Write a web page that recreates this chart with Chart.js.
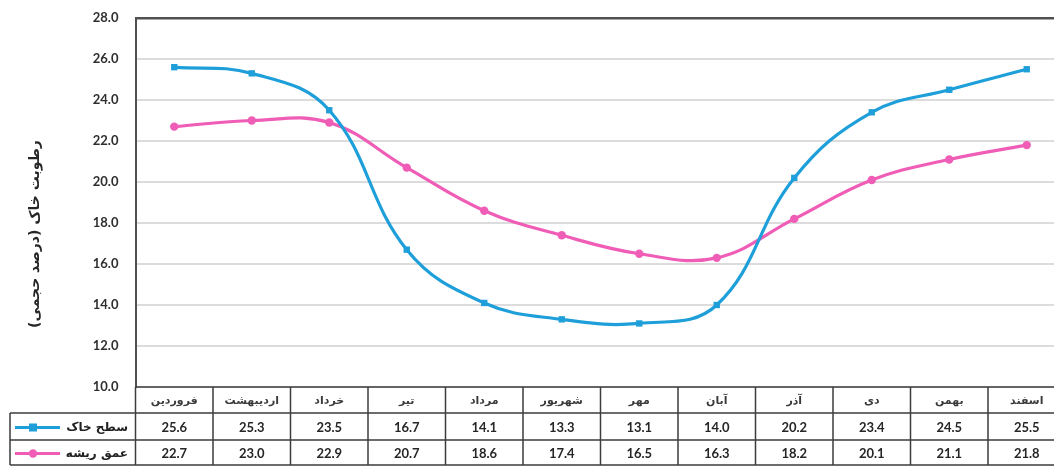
<!DOCTYPE html>
<html>
<head>
<meta charset="utf-8">
<script src="https://cdn.jsdelivr.net/npm/chart.js@4/dist/chart.umd.min.js"></script>
<style>
  html, body { margin: 0; padding: 0; background: #ffffff; overflow: hidden; }
  #wrap { position: relative; width: 1070px; height: 466px; }
</style>
</head>
<body>
<div id="wrap"><canvas id="c" width="1070" height="466"></canvas></div>
<script>
// Months of the Persian calendar
const months = ['فروردین', 'اردیبهشت', 'خرداد', 'تیر', 'مرداد', 'شهریور', 'مهر', 'آبان', 'آذر', 'دی', 'بهمن', 'اسفند'];

// Soil moisture (volumetric %)
const surfaceSoil = [25.6, 25.3, 23.5, 16.7, 14.1, 13.3, 13.1, 14.0, 20.2, 23.4, 24.5, 25.5];
const rootDepth   = [22.7, 23.0, 22.9, 20.7, 18.6, 17.4, 16.5, 16.3, 18.2, 20.1, 21.1, 21.8];

const seriesNames = ['سطح خاک', 'عمق ریشه'];
const seriesColors = ['#1e9fd9', '#ef5db6'];
const seriesMarkers = ['rect', 'circle'];

const yMin = 10;
const yMax = 28;
const yStep = 2;
const yTitle = 'رطوبت خاک (درصد حجمی)';

const persianFont = '"DejaVu Sans", sans-serif';
const numberFont = 'Lato, "Liberation Sans", sans-serif';

// Data table under the plot: month header row + one row per series
const dataTable = {
  id: 'dataTable',
  afterDraw(chart) {
    const { ctx, chartArea, scales } = chart;
    const x = scales.x;
    const colW = x.width / months.length;
    const rows = [chartArea.bottom, 413, 440, 465];
    const tableLeft = 10;

    ctx.save();
    ctx.strokeStyle = '#3d3d3d';
    ctx.lineWidth = 1.5;

    // horizontal rules
    ctx.beginPath();
    ctx.moveTo(chartArea.left, rows[0]); ctx.lineTo(chartArea.right, rows[0]);
    for (let r = 1; r < rows.length; r++) {
      ctx.moveTo(tableLeft, rows[r]); ctx.lineTo(chartArea.right, rows[r]);
    }
    // vertical rules
    for (let i = 0; i <= months.length; i++) {
      const bx = chartArea.left + i * colW;
      ctx.moveTo(bx, rows[0]); ctx.lineTo(bx, rows[3]);
    }
    ctx.moveTo(tableLeft, rows[1]); ctx.lineTo(tableLeft, rows[3]);
    ctx.stroke();

    // month headers
    ctx.direction = 'rtl';
    ctx.textAlign = 'center';
    ctx.textBaseline = 'middle';
    ctx.fillStyle = '#3a3a3a';
    ctx.font = 'bold 11px ' + persianFont;
    months.forEach((m, i) => {
      ctx.fillText(m, x.getPixelForValue(i), (rows[0] + rows[1]) / 2 + 1);
    });

    // series rows
    const series = [surfaceSoil, rootDepth];
    series.forEach((vals, s) => {
      const cy = (rows[s + 1] + rows[s + 2]) / 2 + 1;
      ctx.direction = 'ltr';
      ctx.textAlign = 'center';
      ctx.fillStyle = '#262626';
      ctx.font = 'bold 13px ' + numberFont;
      vals.forEach((v, i) => ctx.fillText(v.toFixed(1), x.getPixelForValue(i), cy));

      // row header: legend key + name
      ctx.strokeStyle = seriesColors[s];
      ctx.fillStyle = seriesColors[s];
      ctx.lineWidth = 3;
      ctx.beginPath();
      ctx.moveTo(15, cy); ctx.lineTo(60, cy);
      ctx.stroke();
      if (seriesMarkers[s] === 'rect') {
        ctx.fillRect(29, cy - 4, 8, 8);
      } else {
        ctx.beginPath(); ctx.arc(33, cy, 4.2, 0, Math.PI * 2); ctx.fill();
      }
      ctx.direction = 'rtl';
      ctx.textAlign = 'right';
      ctx.fillStyle = '#1f1f1f';
      ctx.font = 'bold 12px ' + persianFont;
      ctx.fillText(seriesNames[s], 128, cy);
    });

    // y-axis title
    ctx.translate(35, 234);
    ctx.rotate(-Math.PI / 2);
    ctx.direction = 'rtl';
    ctx.textAlign = 'center';
    ctx.textBaseline = 'middle';
    ctx.fillStyle = '#262626';
    ctx.font = 'bold 14px ' + persianFont;
    ctx.fillText(yTitle, 0, 0);
    ctx.restore();
  }
};

new Chart(document.getElementById('c'), {
  type: 'line',
  data: {
    labels: months,
    datasets: [surfaceSoil, rootDepth].map((vals, s) => ({
      label: seriesNames[s],
      data: vals,
      borderColor: seriesColors[s],
      backgroundColor: seriesColors[s],
      borderWidth: 3.2,
      pointStyle: seriesMarkers[s],
      pointRadius: s === 0 ? 4.5 : 4.2,
      pointBorderWidth: 0,
      tension: 0.4,
      fill: false
    }))
  },
  options: {
    responsive: false,
    animation: false,
    layout: { padding: { left: 0, top: 18, right: 4.5, bottom: 79 } },
    plugins: { legend: { display: false }, tooltip: { enabled: false } },
    scales: {
      x: {
        type: 'category',
        offset: true,
        display: false
      },
      y: {
        min: yMin,
        max: yMax,
        afterFit(scale) {
          scale.width = 135.5;
          scale.paddingTop = 0;
          scale.paddingBottom = 0;
        },
        ticks: {
          stepSize: yStep,
          padding: 17,
          color: '#2e2e2e',
          font: { family: numberFont, size: 13, weight: 'bold' },
          callback: v => Number(v).toFixed(1)
        },
        grid: {
          drawTicks: false,
          lineWidth: ctx => (ctx.tick && ctx.tick.value === yMax ? 2.5 : 2),
          color: ctx => (ctx.tick && ctx.tick.value === yMax ? '#505050' : '#dcdcdc')
        },
        border: { display: true, color: '#505050', width: 2 }
      }
    }
  },
  plugins: [dataTable]
});
</script>
</body>
</html>
